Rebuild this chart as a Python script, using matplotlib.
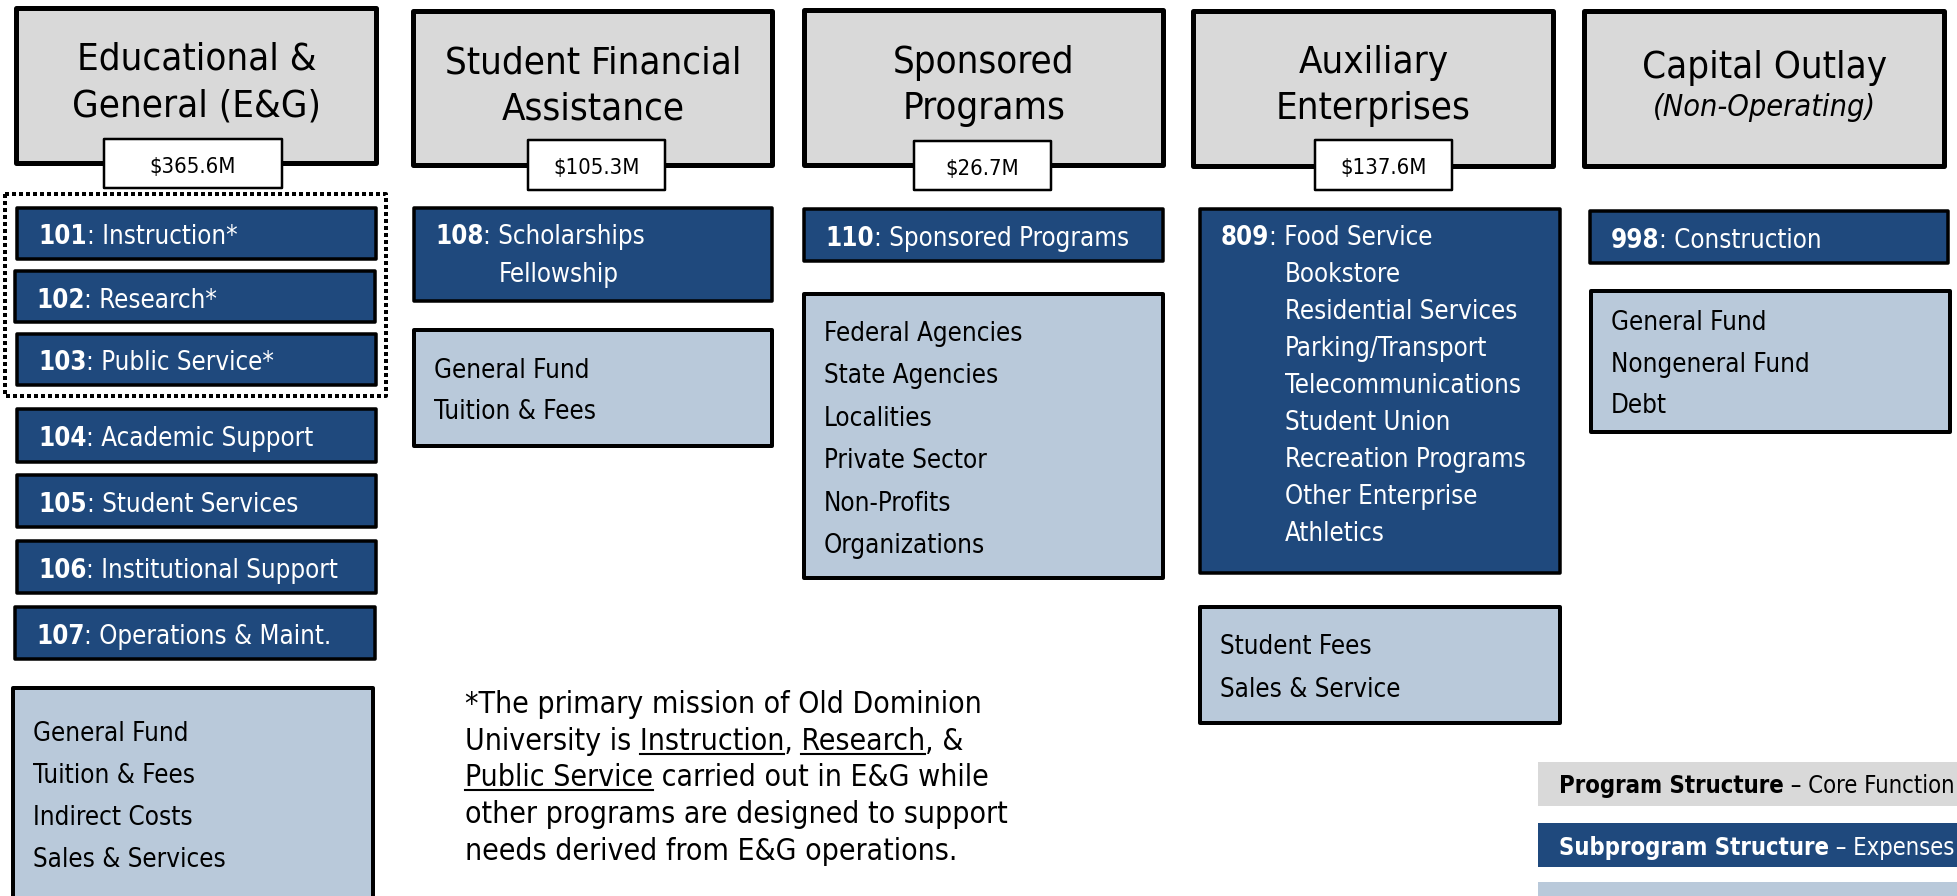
import matplotlib
matplotlib.use('Agg')
import matplotlib.pyplot as plt
from matplotlib import font_manager
from matplotlib.patches import Rectangle

# program headers
programs = ['Educational &\nGeneral (E&G)', 'Student Financial\nAssistance',
            'Sponsored\nPrograms', 'Auxiliary\nEnterprises', 'Capital Outlay']
program_notes = [None, None, None, None, '(Non-Operating)']
amounts = ['$365.6M', '$105.3M', '$26.7M', '$137.6M', None]

# subprograms (code, lines)
eg_sub = [('101', ['Instruction*']), ('102', ['Research*']), ('103', ['Public Service*']),
          ('104', ['Academic Support']), ('105', ['Student Services']),
          ('106', ['Institutional Support']), ('107', ['Operations & Maint.'])]
sfa_sub = [('108', ['Scholarships', 'Fellowship'])]
sp_sub = [('110', ['Sponsored Programs'])]
aux_sub = [('809', ['Food Service', 'Bookstore', 'Residential Services', 'Parking/Transport',
                    'Telecommunications', 'Student Union', 'Recreation Programs',
                    'Other Enterprise', 'Athletics'])]
cap_sub = [('998', ['Construction'])]
subprograms = [eg_sub, sfa_sub, sp_sub, aux_sub, cap_sub]

# funding sources
eg_fund = ['General Fund', 'Tuition & Fees', 'Indirect Costs', 'Sales & Services']
sfa_fund = ['General Fund', 'Tuition & Fees']
sp_fund = ['Federal Agencies', 'State Agencies', 'Localities', 'Private Sector',
           'Non-Profits', 'Organizations']
aux_fund = ['Student Fees', 'Sales & Service']
cap_fund = ['General Fund', 'Nongeneral Fund', 'Debt']
funding = [eg_fund, sfa_fund, sp_fund, aux_fund, cap_fund]

note_lines = ['*The primary mission of Old Dominion',
              'University is Instruction, Research, &',
              'Public Service carried out in E&G while',
              'other programs are designed to support',
              'needs derived from E&G operations.']
note_underlined = ['Instruction', 'Research', 'Public Service']

legend_bold = ['Program Structure', 'Subprogram Structure']
legend_rest = [' \u2013 Core Function', ' \u2013 Expenses']

# colours
GRAY = '#D9D9D9'
BLUE = '#1F497D'
LIGHT = '#B9C9DA'

# layout in pixels (x0, x1, y0, y1), y grows downward
hdr_boxes = [(14, 379, 6, 166), (411, 775, 9, 168), (802, 1166, 8, 168),
             (1191, 1556, 9, 169), (1582, 1947, 9, 169)]
title_base = [(69, 117), (73, 119), (73, 119), (73, 119), (78, 116)]
amt_boxes = [(103, 283, 138, 189), (527, 666, 139, 191), (913, 1052, 140, 191),
             (1314, 1453, 139, 191), None]
sub_boxes = [
    [(15, 378, 206, 261), (13, 377, 269, 324), (15, 378, 332, 387), (15, 378, 407, 464),
     (15, 378, 473, 529), (15, 378, 539, 595), (13, 377, 605, 661)],
    [(412, 774, 206, 303)],
    [(802, 1165, 207, 263)],
    [(1198, 1562, 207, 575)],
    [(1588, 1950, 209, 265)],
]
sub_gap = [0, 38, 0, 37, 0]
fund_boxes = [(11, 375, 686, 910), (412, 774, 328, 448), (802, 1165, 292, 580),
              (1198, 1562, 605, 725), (1589, 1952, 289, 434)]
fund_first = [741, 378, 341, 654, 330]
fund_gap = [42, 41, 42.4, 43, 41.5]

# the original is Tahoma; use condensed DejaVu if it is there, it is closer
FONT = 'DejaVu Sans'
STRETCH = 'normal'
for f in font_manager.fontManager.ttflist:
    if f.name == FONT and 'ondensed' in f.fname:
        STRETCH = 'condensed'
TXT = dict(family=FONT, fontstretch=STRETCH)

fig = plt.figure(figsize=(19.58, 8.96), dpi=100)
ax = fig.add_axes([0, 0, 1, 1])
ax.set_xlim(0, 1958)
ax.set_ylim(896, 0)
ax.axis('off')
rend = fig.canvas.get_renderer()


def width(s, **kw):
    t = ax.text(0, 0, s, **TXT, **kw)
    w = t.get_window_extent(renderer=rend).width
    t.remove()
    return w


def fit(s, target, **kw):
    # font size that gives string s the width it has in the original
    return 20 * target / width(s, fontsize=20, **kw)


def box(b, fc, lw_px, z=1, ls='-'):
    x0, x1, y0, y1 = b
    h = lw_px / 2
    ax.add_patch(Rectangle((x0 + h, y0 + h), x1 - x0 - lw_px, y1 - y0 - lw_px,
                           facecolor=fc, edgecolor='black', linewidth=lw_px * 0.72,
                           linestyle=ls, zorder=z, joinstyle='round'))


TITLE_FS = fit('Educational &', 240)
ITAL_FS = fit('(Non-Operating)', 223, style='italic')
AMT_FS = fit('$365.6M', 86)
SUB_FS = fit('Institutional Support', 237)
FUND_FS = fit('General Fund', 155)
NOTE_FS = fit('other programs are designed to support', 542)
LEG_FS = fit('Program Structure', 226, weight='bold')

# headers
for i, name in enumerate(programs):
    b = hdr_boxes[i]
    box(b, GRAY, 5)
    cx = (b[0] + b[1]) / 2
    lines = name.split('\n')
    if program_notes[i]:
        lines = lines + [program_notes[i]]
    for j, ln in enumerate(lines):
        italic = program_notes[i] is not None and j == len(lines) - 1
        ax.text(cx, title_base[i][j], ln, **TXT, ha='center', va='baseline',
                fontsize=ITAL_FS if italic else TITLE_FS,
                style='italic' if italic else 'normal', zorder=3)
    if amounts[i]:
        a = amt_boxes[i]
        box(a, 'white', 2.5, z=4)
        ax.text((a[0] + a[1]) / 2, (a[2] + a[3]) / 2 + 9, amounts[i], **TXT,
                ha='center', va='baseline', fontsize=AMT_FS, zorder=5)

# dotted frame round the core mission subprograms
box((3, 388, 192, 398), 'none', 4, z=2, ls=(0, (1, 0.75)))

# subprogram boxes
for i, subs in enumerate(subprograms):
    for k, (code, items) in enumerate(subs):
        b = sub_boxes[i][k]
        box(b, BLUE, 3.5)
        x = b[0] + 23
        if len(items) == 1:
            y = (b[2] + b[3]) / 2 + 11
        else:
            y = b[2] + 38
        wb = width(code, fontsize=SUB_FS, weight='bold')
        ax.text(x, y, code, **TXT, fontsize=SUB_FS, weight='bold', color='white',
                va='baseline', zorder=3)
        ax.text(x + wb, y, ': ' + items[0], **TXT, fontsize=SUB_FS, color='white',
                va='baseline', zorder=3)
        indent = x + wb + width(': ' + items[0], fontsize=SUB_FS) - width(items[0], fontsize=SUB_FS)
        for j, it in enumerate(items[1:], start=1):
            ax.text(indent, y + j * sub_gap[i], it, **TXT, fontsize=SUB_FS,
                    color='white', va='baseline', zorder=3)

# funding boxes
for i, srcs in enumerate(funding):
    b = fund_boxes[i]
    box(b, LIGHT, 4)
    for j, s in enumerate(srcs):
        ax.text(b[0] + 22, fund_first[i] + j * fund_gap[i], s, **TXT, fontsize=FUND_FS,
                va='baseline', zorder=3)

# footnote
NX = 465
for j, ln in enumerate(note_lines):
    y = 713 + j * 36.75
    ax.text(NX, y, ln, **TXT, fontsize=NOTE_FS, va='baseline', zorder=3)
    for wd in note_underlined:
        p = ln.find(wd)
        if p < 0:
            continue
        xe = NX + width(ln[:p + len(wd)], fontsize=NOTE_FS)
        xs = xe - width(wd, fontsize=NOTE_FS)
        ax.plot([xs, xe], [y + 4, y + 4], color='black', lw=1.5, zorder=3)

# legend
leg_bars = [(1538, 1960, 762, 806, GRAY), (1538, 1960, 823, 867, BLUE),
            (1538, 1960, 882, 930, LIGHT)]
for x0, x1, y0, y1, c in leg_bars:
    ax.add_patch(Rectangle((x0, y0), x1 - x0, y1 - y0, facecolor=c, edgecolor='none'))
for j, (bt, rt) in enumerate(zip(legend_bold, legend_rest)):
    y = [793, 855][j]
    col = 'black' if j == 0 else 'white'
    ax.text(1559, y, bt, **TXT, fontsize=LEG_FS, weight='bold', color=col, va='baseline')
    wb = width(bt, fontsize=LEG_FS, weight='bold')
    ax.text(1559 + wb, y, rt, **TXT, fontsize=LEG_FS, color=col, va='baseline')

fig.savefig('out.png', dpi=100)
